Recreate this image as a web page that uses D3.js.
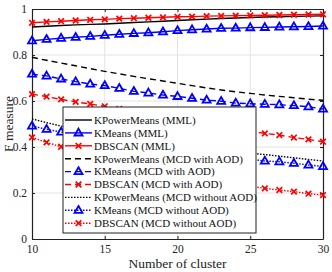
<!DOCTYPE html>
<html>
<head>
<meta charset="utf-8">
<script src="https://d3js.org/d3.v7.min.js"></script>
<style>
  body { margin: 0; background: #fff; }
  text { font-family: "Liberation Serif", "Times New Roman", serif; }
</style>
</head>
<body>
<div id="chart"></div>
<script>
// cluster counts
const clusters = d3.range(10, 31);

const kpmMML  = [0.922,0.925,0.928,0.931,0.933,0.935,0.938,0.941,0.944,0.947,0.950,0.953,0.956,0.959,0.961,0.963,0.965,0.966,0.968,0.969,0.970];
const kmMML   = [0.862,0.868,0.873,0.877,0.881,0.886,0.890,0.894,0.897,0.901,0.906,0.910,0.913,0.916,0.917,0.919,0.920,0.922,0.923,0.924,0.926];
const dbMML   = [0.940,0.944,0.947,0.950,0.953,0.955,0.958,0.960,0.962,0.964,0.966,0.967,0.969,0.970,0.971,0.972,0.973,0.974,0.975,0.976,0.977];
const kpmAOD  = [0.790,0.777,0.765,0.753,0.741,0.729,0.718,0.707,0.697,0.687,0.677,0.667,0.657,0.648,0.640,0.633,0.626,0.620,0.614,0.608,0.603];
const kmAOD   = [0.717,0.709,0.696,0.684,0.674,0.667,0.655,0.642,0.635,0.626,0.620,0.612,0.604,0.599,0.591,0.588,0.586,0.584,0.580,0.575,0.565];
const dbAOD   = [0.630,0.619,0.607,0.596,0.587,0.577,0.566,0.555,0.544,0.533,0.522,0.511,0.500,0.489,0.479,0.469,0.459,0.452,0.441,0.433,0.423];
const kpmNo   = [0.522,0.506,0.491,0.479,0.467,0.456,0.445,0.435,0.425,0.416,0.407,0.399,0.392,0.385,0.379,0.373,0.367,0.360,0.353,0.346,0.339];
const kmNo    = [0.491,0.477,0.465,0.455,0.446,0.437,0.428,0.419,0.410,0.401,0.392,0.383,0.374,0.365,0.356,0.347,0.339,0.336,0.329,0.322,0.315];
const dbNo    = [0.442,0.420,0.401,0.385,0.370,0.355,0.340,0.326,0.312,0.299,0.286,0.274,0.262,0.251,0.240,0.230,0.220,0.213,0.206,0.197,0.191];

const xTicks = [10, 15, 20, 25, 30];
const yTicks = [0, 0.2, 0.4, 0.6, 0.8, 1];

const series = [
  {name: "KPowerMeans (MML)", vals: kpmMML, color: "#000", dash: null, marker: null},
  {name: "KMeans (MML)", vals: kmMML, color: "#0000ff", dash: null, marker: "tri"},
  {name: "DBSCAN (MML)", vals: dbMML, color: "#ff0000", dash: null, marker: "x"},
  {name: "KPowerMeans (MCD with AOD)", vals: kpmAOD, color: "#000", dash: "6,4", marker: null},
  {name: "KMeans (MCD with AOD)", vals: kmAOD, color: "#0000ff", dash: "6,4", marker: "tri"},
  {name: "DBSCAN (MCD with AOD)", vals: dbAOD, color: "#ff0000", dash: "6,4", marker: "x"},
  {name: "KPowerMeans (MCD without AOD)", vals: kpmNo, color: "#000", dash: "1.5,1.5", marker: null},
  {name: "KMeans (MCD without AOD)", vals: kmNo, color: "#0000ff", dash: "1.5,1.5", marker: "tri"},
  {name: "DBSCAN (MCD without AOD)", vals: dbNo, color: "#ff0000", dash: "1.5,1.5", marker: "x"}
];

const W = 332, H = 272;
const m = {left: 32, right: 9, top: 9, bottom: 33};

const svg = d3.select("#chart").append("svg")
  .attr("width", W).attr("height", H);

const x = d3.scaleLinear().domain([10, 30]).range([m.left, W - m.right]);
const y = d3.scaleLinear().domain([0, 1]).range([H - m.bottom, m.top]);

// grid
svg.append("g").selectAll("line").data(xTicks.slice(1, -1)).join("line")
  .attr("x1", d => x(d)).attr("x2", d => x(d))
  .attr("y1", y(0)).attr("y2", y(1))
  .attr("stroke", "#e3e3e3").attr("stroke-width", 1);
svg.append("g").selectAll("line").data(yTicks.slice(1, -1)).join("line")
  .attr("x1", x(10)).attr("x2", x(30))
  .attr("y1", d => y(d)).attr("y2", d => y(d))
  .attr("stroke", "#e3e3e3").attr("stroke-width", 1);

// axes
const fmt = d => d === 0 ? "0" : d === 1 ? "1" : d3.format(".1f")(d);
const axB = svg.append("g").attr("transform", `translate(0,${y(0)})`)
  .call(d3.axisBottom(x).tickValues(xTicks).tickSizeInner(-3).tickSizeOuter(0).tickPadding(6));
const axL = svg.append("g").attr("transform", `translate(${x(10)},0)`)
  .call(d3.axisLeft(y).tickValues(yTicks).tickFormat(fmt).tickSizeInner(-3).tickSizeOuter(0).tickPadding(5));
const axT = svg.append("g").attr("transform", `translate(0,${y(1)})`)
  .call(d3.axisTop(x).tickValues(xTicks).tickSizeInner(-3).tickSizeOuter(0).tickFormat(""));
const axR = svg.append("g").attr("transform", `translate(${x(30)},0)`)
  .call(d3.axisRight(y).tickValues(yTicks).tickSizeInner(-3).tickSizeOuter(0).tickFormat(""));
[axB, axL, axT, axR].forEach(a => {
  a.select(".domain").attr("stroke", "#222").attr("stroke-width", 1.2);
  a.selectAll(".tick line").attr("stroke", "#222");
  a.selectAll("text").attr("font-size", 11.5).attr("fill", "#222")
    .style("font-family", "'Liberation Serif', serif");
});

// lines
const line = d3.line().x((d, i) => x(clusters[i])).y(d => y(d));
const triPath = "M0,-4.3L4,2.6L-4,2.6Z";
const xPath = "M-2.8,-2.8L2.8,2.8M-2.8,2.8L2.8,-2.8";

function drawMarker(g, s, cx, cy) {
  if (s.marker === "tri") {
    g.append("path").attr("d", triPath).attr("transform", `translate(${cx},${cy})`)
      .attr("fill", "none").attr("stroke", s.color).attr("stroke-width", 1.8);
  } else if (s.marker === "x") {
    g.append("path").attr("d", xPath).attr("transform", `translate(${cx},${cy})`)
      .attr("fill", "none").attr("stroke", s.color).attr("stroke-width", 1.7);
  }
}

series.forEach(s => {
  const g = svg.append("g");
  g.append("path").datum(s.vals).attr("d", line)
    .attr("fill", "none").attr("stroke", s.color).attr("stroke-width", 1.4)
    .attr("stroke-dasharray", s.dash);
  if (s.marker) s.vals.forEach((v, i) => drawMarker(g, s, x(clusters[i]), y(v)));
});

// legend
const lg = svg.append("g");
lg.append("rect").attr("x", 63).attr("y", 107).attr("width", 193).attr("height", 126)
  .attr("fill", "#fff").attr("stroke", "#222").attr("stroke-width", 1);
series.forEach((s, i) => {
  const ly = 120 + i * 12.9;
  lg.append("line").attr("x1", 65).attr("x2", 92).attr("y1", ly).attr("y2", ly)
    .attr("stroke", s.color).attr("stroke-width", 1.4).attr("stroke-dasharray", s.dash);
  drawMarker(lg, s, 78.5, ly);
  lg.append("text").attr("x", 94).attr("y", ly + 3.8).attr("font-size", 11)
    .attr("fill", "#111").text(s.name);
});

// axis titles
svg.append("text").attr("x", (x(10) + x(30)) / 2).attr("y", 268)
  .attr("text-anchor", "middle").attr("font-size", 13.5).attr("fill", "#222")
  .text("Number of cluster");
svg.append("text").attr("transform", `translate(13,${(y(0) + y(1)) / 2}) rotate(-90)`)
  .attr("text-anchor", "middle").attr("font-size", 13.5).attr("fill", "#222")
  .text("F measure");
</script>
</body>
</html>
